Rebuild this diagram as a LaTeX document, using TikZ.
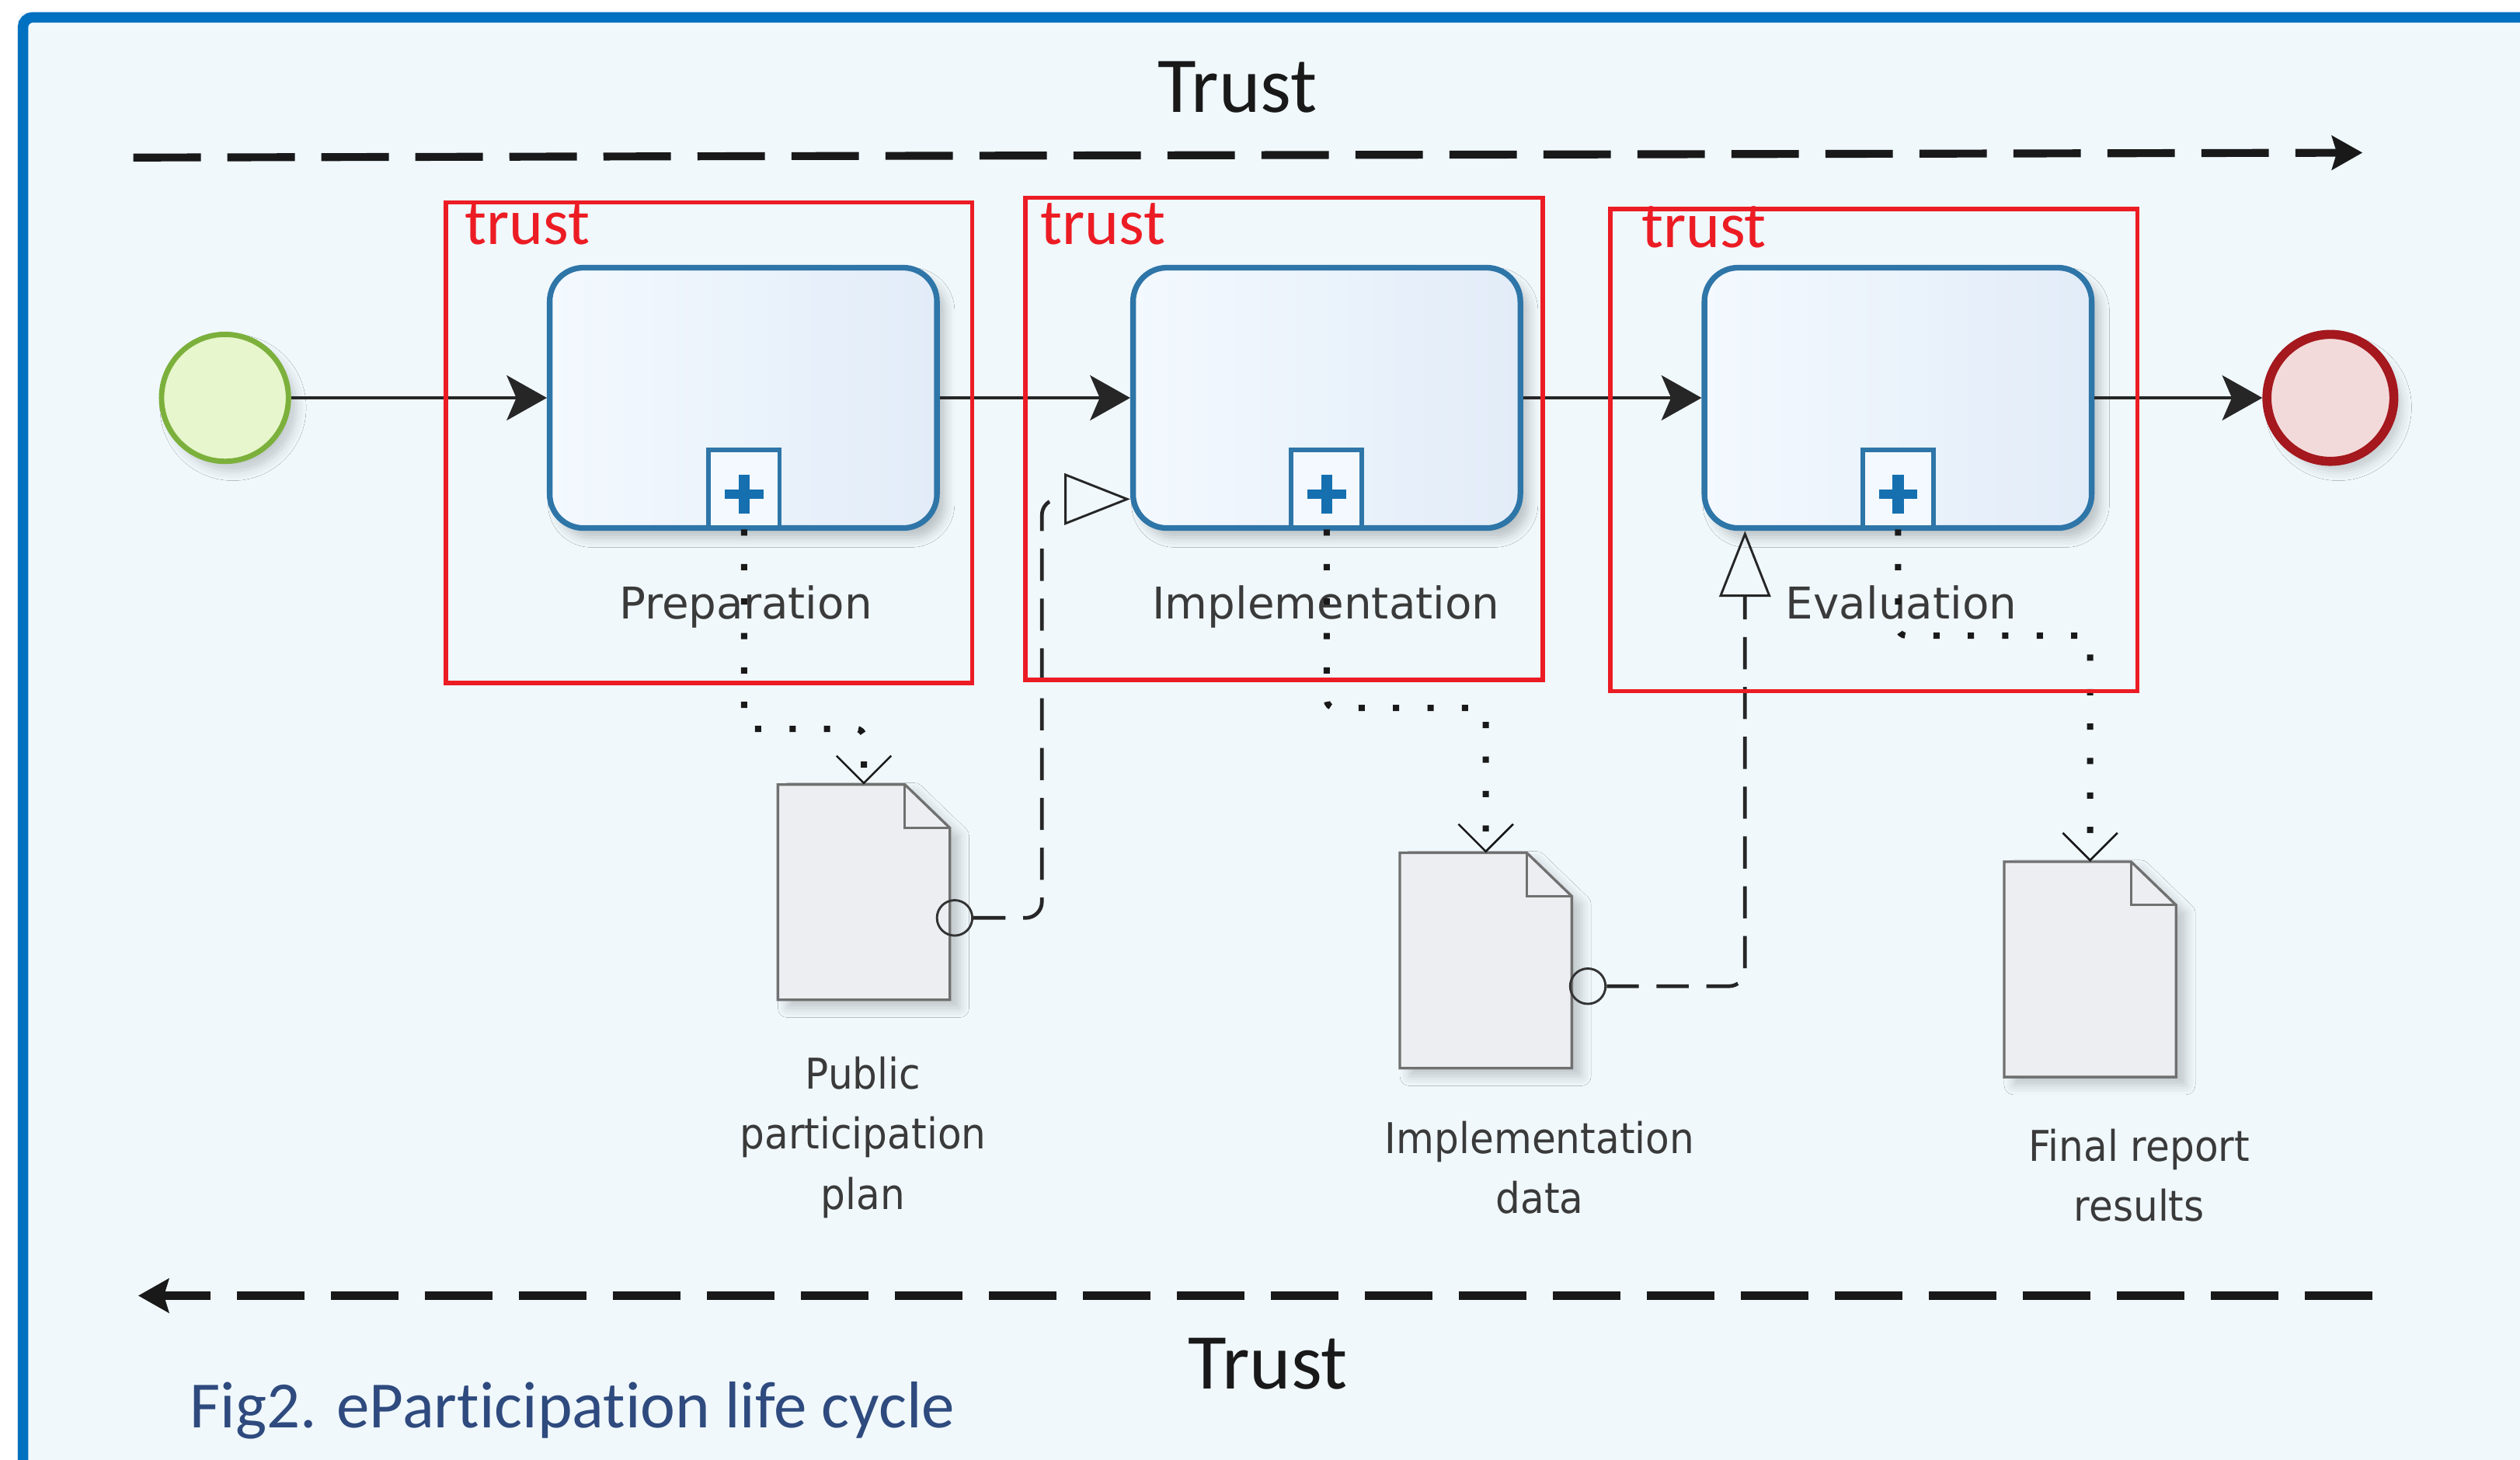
\documentclass[tikz,border=0pt]{standalone}
\usepackage{fontspec}
\setmainfont[Ligatures=NoCommon]{Carlito}
\newfontfamily\tasklabelfont{DejaVu Sans}
\newfontfamily\doclabelfont[FakeStretch=0.92]{DejaVu Sans}
\usepackage{tikz}
\usetikzlibrary{positioning, arrows.meta, shadows.blur}

\definecolor{bgblue}{RGB}{240,248,252}
\definecolor{frameblue}{RGB}{0,112,192}
\definecolor{taskline}{RGB}{46,117,168}
\definecolor{taskleft}{RGB}{243,249,254}
\definecolor{taskright}{RGB}{226,236,248}
\definecolor{plusblue}{RGB}{22,112,176}
\definecolor{startline}{RGB}{124,176,60}
\definecolor{startfill}{RGB}{231,246,204}
\definecolor{endline}{RGB}{164,24,30}
\definecolor{endfill}{RGB}{243,218,218}
\definecolor{docline}{RGB}{112,112,112}
\definecolor{docfill}{RGB}{236,238,241}
\definecolor{labelgray}{RGB}{58,58,58}
\definecolor{trustred}{RGB}{236,28,36}
\definecolor{captionblue}{RGB}{46,74,126}

\tikzset{
  task/.style={draw=taskline, line width=2pt, rounded corners=0.42cm, left color=taskleft, right color=taskright,
    minimum width=4.82cm, minimum height=3.24cm, inner sep=0pt,
    blur shadow={shadow xshift=0.1cm, shadow yshift=-0.12cm, shadow blur radius=0.12cm, shadow opacity=22}},
  submarker/.style={draw=taskline, line width=1.6pt, fill=taskleft, minimum width=0.88cm, minimum height=0.96cm, inner sep=0pt},
  tasklabel/.style={font=\tasklabelfont\fontsize{15.5}{18}\selectfont, text=labelgray, inner sep=0pt},
  doclabel/.style={font=\doclabelfont\fontsize{15}{21.3}\selectfont, text=labelgray, inner sep=0pt, align=center},
  startev/.style={circle, draw=startline, line width=1.9pt, fill=startfill, minimum size=1.58cm, inner sep=0pt,
    blur shadow={shadow xshift=0.1cm, shadow yshift=-0.12cm, shadow blur radius=0.12cm, shadow opacity=18}},
  endev/.style={circle, draw=endline, line width=3.2pt, fill=endfill, minimum size=1.58cm, inner sep=0pt,
    blur shadow={shadow xshift=0.1cm, shadow yshift=-0.12cm, shadow blur radius=0.12cm, shadow opacity=18}},
  flow/.style={draw=black!85, line width=1.1pt, -{Stealth[length=0.5cm, width=0.56cm, inset=0.12cm]}},
  trustline/.style={draw=black!90, line width=2.8pt, dash pattern=on 0.84cm off 0.33cm,
    -{Stealth[length=0.38cm, width=0.42cm, inset=0.06cm]}},
  dotassoc/.style={draw=black!90, line width=2.2pt, dash pattern=on 2.2pt off 10pt, rounded corners=0.1cm,
    -{Straight Barb[length=0.34cm, width=0.68cm, line width'=0.7pt]}},
  dataassoc/.style={draw=black!85, line width=1.3pt, dash pattern=on 0.4cm off 0.22cm, rounded corners=0.2cm,
    -{Triangle[open, length=0.82cm, width=0.64cm, line width'=0.8pt]}},
  portcircle/.style={circle, draw=black!80, line width=0.8pt, minimum size=0.44cm, inner sep=0pt},
  docnode/.style={minimum width=2.14cm, minimum height=2.68cm, inner sep=0pt, outer sep=0pt},
  docshape/.style={draw=docline, line width=0.9pt, fill=docfill,
    blur shadow={shadow xshift=0.12cm, shadow yshift=-0.1cm, shadow blur radius=0.12cm, shadow opacity=20}},
  docfold/.style={draw=docline, line width=0.9pt},
  trustbox/.style={draw=trustred, line width=1.5pt, inner sep=0pt},
  trustlabel/.style={font=\fontsize{23}{26}\selectfont, text=trustred, inner sep=0pt},
  trusttext/.style={font=\fontsize{28}{32}\selectfont, text=black!90, inner sep=0pt},
  captiontext/.style={font=\fontsize{23.4}{26}\selectfont, text=captionblue, inner sep=0pt}
}

\begin{document}
\begin{tikzpicture}[x=0.02cm, y=-0.02cm]
	\useasboundingbox (0,0) rectangle (1568,908);
	\fill[white] (0,0) rectangle (1568,908);
	\fill[bgblue, rounded corners=0.1cm] (11,7.5) rectangle (1590,930);
	\draw[frameblue, line width=3.7pt, rounded corners=0.12cm] (14.3,930) -- (14.3,10.8) -- (1590,10.8);

	% trust arrows
	\coordinate (trustA) at (83,98);
	\coordinate (trustB) at (1470,95);
	\coordinate (trustC) at (1476,806);
	\coordinate (trustD) at (86,806);
	\draw[trustline] (trustA) -- (trustB);
	\draw[trustline] (trustC) -- (trustD);
	\node[trusttext, anchor=base] (trusttop) at (770,70) {Trust};
	\node[trusttext, anchor=base] (trustbottom) at (789,864) {Trust};

	% process
	\node[startev] (start) at (140,247.5) {};
	\node[task] (prep) at (462.5,247.5) {};
	\node[task] (impl) at (825.5,247.5) {};
	\node[task] (eval) at (1181,247.5) {};
	\node[endev] (end) at (1450,247.5) {};

	\draw[flow] (start) -- (prep);
	\draw[flow] (prep) -- (impl);
	\draw[flow] (impl) -- (eval);
	\draw[flow] (eval) -- (end);

	\node[submarker] (prepm) at (463,304) {};
	\node[submarker] (implm) at (825.5,304) {};
	\node[submarker] (evalm) at (1181,304) {};
	\foreach \m in {prepm, implm, evalm} {
		\fill[plusblue] ([xshift=-0.24cm, yshift=-0.13cm]\m.center) rectangle ([xshift=0.24cm, yshift=-0.01cm]\m.center);
		\fill[plusblue] ([xshift=-0.07cm, yshift=-0.31cm]\m.center) rectangle ([xshift=0.07cm, yshift=0.17cm]\m.center);
	}

	\node[tasklabel, anchor=base] (prepl) at (464,385) {Preparation};
	\node[tasklabel, anchor=base] (impll) at (825,385) {Implementation};
	\node[tasklabel, anchor=base] (evall) at (1183,385) {Evaluation};

	% data objects
	\node[docnode] (doc1) at (537.5,555) {};
	\node[docnode] (doc2) at (924.5,597.5) {};
	\node[docnode] (doc3) at (1300.5,603) {};
	\foreach \d in {doc1, doc2, doc3} {
		\draw[docshape] (\d.south west) -- (\d.north west) -- ([xshift=-0.56cm]\d.north east) -- ([yshift=-0.54cm]\d.north east) -- (\d.south east) -- cycle;
		\draw[docfold] ([xshift=-0.56cm]\d.north east) -- ([xshift=-0.56cm, yshift=-0.54cm]\d.north east) -- ([yshift=-0.54cm]\d.north east);
	}

	\node[doclabel, anchor=north] (doc1l) at (537,657) {Public\\participation\\plan};
	\node[doclabel, anchor=north] (doc2l) at (958,697) {Implementation\\data};
	\node[doclabel, anchor=north] (doc3l) at (1331,702) {Final report\\results};

	\draw[dotassoc] (prepm.south) -- ++(0,124) -| (doc1.north);
	\draw[dotassoc] (implm.south) -- ++(0,111) -| (doc2.north);
	\draw[dotassoc] (evalm.south) -- ++(0,66) -| (doc3.north);

	\node[portcircle] (doc1o) at ([xshift=0.06cm, yshift=-0.32cm]doc1.east) {};
	\node[portcircle] (doc2o) at ([xshift=0.2cm, yshift=-0.32cm]doc2.east) {};
	\coordinate (implin) at ([yshift=-1.26cm]impl.west);
	\coordinate (evalin) at ([xshift=0.54cm]eval.south west);
	\draw[dataassoc] (doc1o.east) -| ([xshift=-1.1cm]implin) -- (implin);
	\draw[dataassoc] (doc2o.east) -| (evalin);

	% trust boxes
	\node[trustbox, minimum width=6.55cm, minimum height=5.98cm] (tb1) at (441.25,275.5) {};
	\node[trustbox, minimum width=6.44cm, minimum height=6cm] (tb2) at (799,273) {};
	\node[trustbox, minimum width=6.56cm, minimum height=6cm] (tb3) at (1166,280) {};
	\node[trustlabel, anchor=base west] (tl1) at (289,152) {trust};
	\node[trustlabel, anchor=base west] (tl2) at (647,152) {trust};
	\node[trustlabel, anchor=base west] (tl3) at (1021,154) {trust};

	\node[captiontext, anchor=base west] (caption) at (118,888) {Fig2. eParticipation life cycle};
\end{tikzpicture}
\end{document}
